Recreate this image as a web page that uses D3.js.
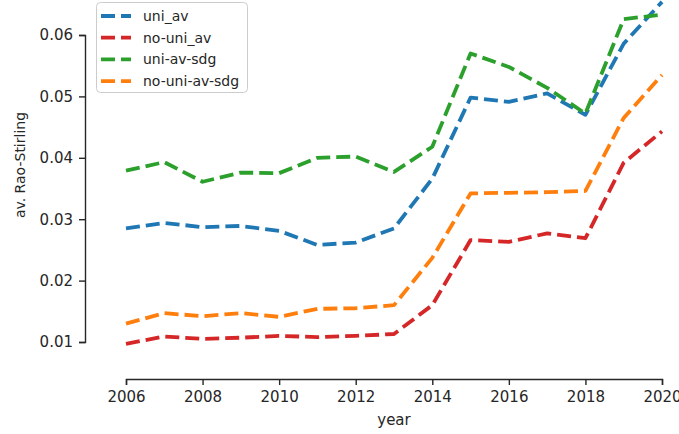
<!DOCTYPE html>
<html>
<head>
<meta charset="utf-8">
<script src="https://cdn.jsdelivr.net/npm/d3@7"></script>
<style>
  body { margin: 0; background: #fff; }
  svg { display: block; }
  text { font-family: "DejaVu Sans", sans-serif; fill: #262626; }
</style>
</head>
<body>
<svg id="chart" width="679" height="434"></svg>
<script>
const years = [2006, 2007, 2008, 2009, 2010, 2011, 2012, 2013, 2014, 2015, 2016, 2017, 2018, 2019, 2020];
const uniAv       = [0.0285, 0.0294, 0.0287, 0.0289, 0.0281, 0.0258, 0.0262, 0.0285, 0.0366, 0.0498, 0.0491, 0.0505, 0.0470, 0.0586, 0.0654];
const noUniAv     = [0.0097, 0.0109, 0.0105, 0.0107, 0.0110, 0.0108, 0.0110, 0.0113, 0.0160, 0.0266, 0.0263, 0.0277, 0.0269, 0.0392, 0.0443];
const uniAvSdg    = [0.0379, 0.0393, 0.0361, 0.0376, 0.0375, 0.0400, 0.0402, 0.0377, 0.0418, 0.0570, 0.0548, 0.0514, 0.0472, 0.0626, 0.0633];
const noUniAvSdg  = [0.0130, 0.0147, 0.0142, 0.0147, 0.0141, 0.0154, 0.0155, 0.0160, 0.0237, 0.0342, 0.0343, 0.0344, 0.0346, 0.0465, 0.0535];
const seriesNames = ["uni_av", "no-uni_av", "uni-av-sdg", "no-uni-av-sdg"];
const seriesColors = ["#1f77b4", "#d62728", "#2ca02c", "#ff7f0e"];
const xTicks = [2006, 2008, 2010, 2012, 2014, 2016, 2018, 2020];
const yTicks = [0.01, 0.02, 0.03, 0.04, 0.05, 0.06];
const xLabel = "year";
const yLabel = "av. Rao-Stirling";

const seriesValues = [uniAv, noUniAv, uniAvSdg, noUniAvSdg];
const svg = d3.select("#chart");

const x = d3.scaleLinear().domain([2006, 2020]).range([126, 662]);
const y = d3.scaleLinear().domain([0.01, 0.06]).range([342, 35]);

const axisColor = "#262626";
const tickFont = 15;

// Y axis
const yAxis = svg.append("g").attr("transform", "translate(85,0)")
  .call(d3.axisLeft(y).tickValues(yTicks).tickFormat(d3.format(".2f")).tickSizeOuter(0).tickSize(6).tickPadding(6));
// X axis
const xAxis = svg.append("g").attr("transform", "translate(0,379)")
  .call(d3.axisBottom(x).tickValues(xTicks).tickFormat(d3.format("d")).tickSizeOuter(0).tickSize(6).tickPadding(6));

[yAxis, xAxis].forEach(g => {
  g.select(".domain").attr("stroke", axisColor).attr("stroke-width", 1.4);
  g.selectAll(".tick line").attr("stroke", axisColor).attr("stroke-width", 1.4);
  g.selectAll(".tick text").attr("font-size", tickFont).attr("font-family", "DejaVu Sans").attr("fill", axisColor);
});

// axis labels
svg.append("text").attr("x", 394).attr("y", 425).attr("text-anchor", "middle")
  .attr("font-size", 15).text(xLabel);
svg.append("text").attr("transform", "translate(25,165) rotate(-90)").attr("text-anchor", "middle")
  .attr("font-size", 14).text(yLabel);

// lines
const line = d3.line().x((d, i) => x(years[i])).y(d => y(d));
seriesValues.forEach((vals, k) => {
  svg.append("path").datum(vals)
    .attr("d", line)
    .attr("fill", "none")
    .attr("stroke", seriesColors[k])
    .attr("stroke-width", 3.8)
    .attr("stroke-dasharray", "14,6")
    .attr("stroke-linejoin", "round");
});

// legend
const lg = svg.append("g");
lg.append("rect").attr("x", 96.5).attr("y", 2.5).attr("width", 151).attr("height", 90)
  .attr("rx", 4).attr("fill", "#fff").attr("fill-opacity", 0.8).attr("stroke", "#cccccc").attr("stroke-width", 1);
seriesNames.forEach((name, k) => {
  const cy = 16 + k * 21.7;
  lg.append("line").attr("x1", 101).attr("x2", 131).attr("y1", cy).attr("y2", cy)
    .attr("stroke", seriesColors[k]).attr("stroke-width", 3.8).attr("stroke-dasharray", "14,6");
  lg.append("text").attr("x", 143).attr("y", cy).attr("dy", "0.35em")
    .attr("font-size", 14).text(name);
});
</script>
</body>
</html>
